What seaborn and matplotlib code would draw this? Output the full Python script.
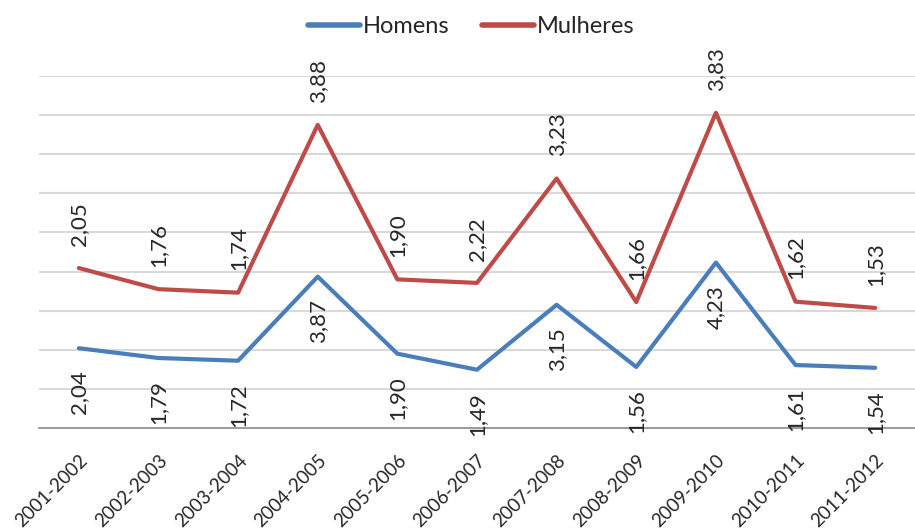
import matplotlib
matplotlib.use("Agg")
import matplotlib.pyplot as plt
import seaborn as sns
import pandas as pd
import numpy as np

# Data (stacked line chart: Mulheres drawn on top of Homens)
periods = ["2001-2002", "2002-2003", "2003-2004", "2004-2005", "2005-2006", "2006-2007",
           "2007-2008", "2008-2009", "2009-2010", "2010-2011", "2011-2012"]
homens = [2.04, 1.79, 1.72, 3.87, 1.90, 1.49, 3.15, 1.56, 4.23, 1.61, 1.54]
mulheres = [2.05, 1.76, 1.74, 3.88, 1.90, 2.22, 3.23, 1.66, 3.83, 1.62, 1.53]

BLUE = "#4A7EBB"
RED = "#BE4B48"

df = pd.DataFrame({"periodo": periods, "Homens": homens, "Mulheres": mulheres})
df["x"] = np.arange(len(df))
df["Mulheres_stack"] = df["Homens"] + df["Mulheres"]

sns.set_style("white")
plt.rcParams["font.family"] = ["Lato", "DejaVu Sans"]

fig = plt.figure(figsize=(9.15, 5.32), dpi=100)
ax = fig.add_axes([39 / 915, 104 / 532, 1 - 39 / 915, (428 - 76) / 532])

sns.lineplot(data=df, x="x", y="Homens", color=BLUE, lw=3, ax=ax, label="Homens")
sns.lineplot(data=df, x="x", y="Mulheres_stack", color=RED, lw=3, ax=ax, label="Mulheres")

def fmt(v):
    return f"{v:.2f}".replace(".", ",")

# Data labels
for _, r in df.iterrows():
    ax.annotate(fmt(r["Homens"]), (r["x"], r["Homens"]), xytext=(0, -16),
                textcoords="offset points", rotation=90, ha="center", va="top", fontsize=16)
    ax.annotate(fmt(r["Mulheres"]), (r["x"], r["Mulheres_stack"]), xytext=(0, 16),
                textcoords="offset points", rotation=90, ha="center", va="bottom", fontsize=16)

ax.set_xlim(-0.5, 10.45)
ax.set_ylim(0, 9)
ax.set_yticks(np.arange(1, 10))
ax.set_yticklabels([])
ax.tick_params(axis="y", length=0)
ax.grid(True, axis="y", color="#d9d9d9", lw=1.5)
ax.set_axisbelow(True)

ax.set_xticks(df["x"])
ax.set_xticklabels(periods, rotation=45, ha="right", rotation_mode="anchor", fontsize=13.5)
ax.set_xticks(np.arange(-0.5, 11, 1), minor=True)
ax.tick_params(axis="x", which="major", length=0, pad=17)
ax.tick_params(axis="x", which="minor", length=4, color="#898989", width=1.2, direction="out")

for s in ["left", "right", "top"]:
    ax.spines[s].set_visible(False)
ax.spines["bottom"].set_color("#898989")
ax.spines["bottom"].set_linewidth(1.2)

ax.set_xlabel("")
ax.set_ylabel("")

ax.legend_.remove()
handles, labels = ax.get_legend_handles_labels()
fig.legend(handles, labels, loc="upper center", bbox_to_anchor=(0.515, 1.01), ncol=2,
           frameon=False, fontsize=17, handlelength=2.2, handletextpad=0.1, columnspacing=1.4)
for line in fig.legends[0].get_lines():
    line.set_linewidth(4)

fig.savefig("out.png", dpi=100)
